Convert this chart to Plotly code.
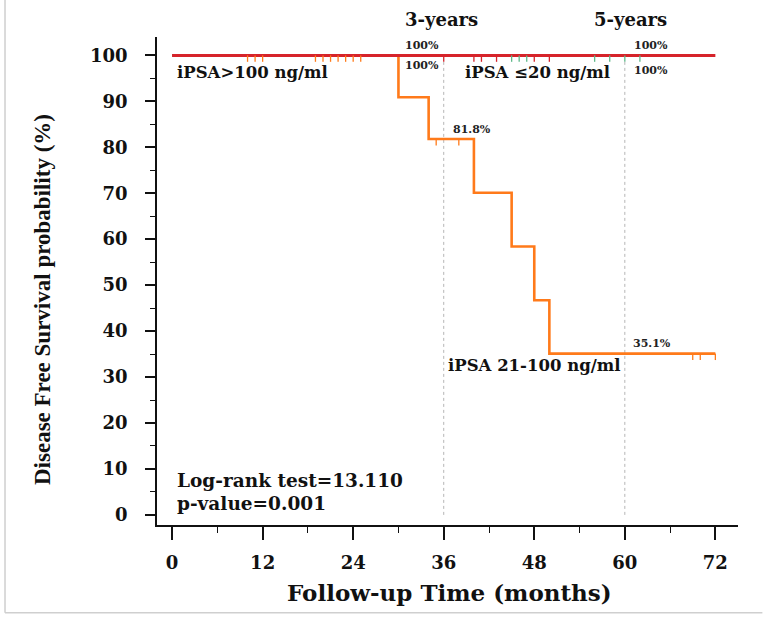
import plotly.graph_objects as go

# ---------------- data ----------------
# iPSA 21-100 ng/ml (orange) Kaplan-Meier steps
mid_times = [0, 30, 34, 40, 45, 48, 50, 72]
mid_surv = [100, 90.9, 81.8, 70.1, 58.4, 46.7, 35.1, 35.1]
mid_censor = [10, 11, 12, 19, 20, 21, 22, 23, 24, 25, 35, 38, 69, 70, 72]

# iPSA > 100 ng/ml (red)
high_times = [0, 72]
high_surv = [100, 100]
high_censor = [36, 40, 41, 43, 48, 50]

# iPSA <= 20 ng/ml (green)
low_times = [0, 62]
low_surv = [100, 100]
low_censor = [45, 46, 47, 56, 58, 60, 62]

x_ticks = [0, 12, 24, 36, 48, 60, 72]
y_ticks = [0, 10, 20, 30, 40, 50, 60, 70, 80, 90, 100]
milestones = [36, 60]

ORANGE = "#ff7a1a"
RED = "#d6232a"
GREEN = "#5fb98a"
SERIF = "DejaVu Serif"


def surv_at(t, times, surv):
    val = surv[0]
    for ti, si in zip(times, surv):
        if t >= ti:
            val = si
    return val


def censor_trace(ts, times, surv, color):
    xs, ys = [], []
    for t in ts:
        s = surv_at(t, times, surv)
        xs += [t, t, None]
        ys += [s, s - 1.4, None]
    return go.Scatter(x=xs, y=ys, mode="lines", line=dict(color=color, width=1.3),
                      hoverinfo="skip", showlegend=False, cliponaxis=False)


fig = go.Figure()

fig.add_trace(go.Scatter(x=mid_times, y=mid_surv, mode="lines", line_shape="hv",
                         line=dict(color=ORANGE, width=2.6), showlegend=False))
fig.add_trace(go.Scatter(x=low_times, y=low_surv, mode="lines", line_shape="hv",
                         line=dict(color=GREEN, width=3), showlegend=False))
fig.add_trace(go.Scatter(x=high_times, y=high_surv, mode="lines", line_shape="hv",
                         line=dict(color=RED, width=3), showlegend=False, cliponaxis=False))

fig.add_trace(censor_trace(mid_censor, mid_times, mid_surv, ORANGE))
fig.add_trace(censor_trace(high_censor, high_times, high_surv, RED))
fig.add_trace(censor_trace(low_censor, low_times, low_surv, GREEN))

shapes = []
for m in milestones:
    shapes.append(dict(type="line", xref="x", yref="y", x0=m, x1=m, y0=0, y1=99,
                       line=dict(color="#b5b5b5", width=1, dash="dot"), layer="below"))
# outer frame (left and bottom)
shapes.append(dict(type="line", xref="paper", yref="paper", x0=-0.2616, x1=-0.2616,
                   y0=-0.18, y1=1.08, line=dict(color="#cfcfcf", width=1.5)))
shapes.append(dict(type="line", xref="paper", yref="paper", x0=-0.2616, x1=1.042,
                   y0=-0.18, y1=-0.18, line=dict(color="#cfcfcf", width=1.5)))

small = dict(family=SERIF, size=11, color="#222", weight="bold")
mid = dict(family=SERIF, size=16.5, color="#111", weight="bold")
big = dict(family=SERIF, size=18, color="#111", weight="bold")
ann = [
    dict(x=35.6, y=102.2, text="100%", xanchor="right", font=small),
    dict(x=35.6, y=97.8, text="100%", xanchor="right", font=small),
    dict(x=61.0, y=102.2, text="100%", xanchor="left", font=small),
    dict(x=61.0, y=96.8, text="100%", xanchor="left", font=small),
    dict(x=36.9, y=83.9, text="81.8%", xanchor="left", font=small),
    dict(x=60.8, y=37.2, text="35.1%", xanchor="left", font=small),
    dict(x=0.4, y=96.3, text="iPSA>100 ng/ml", xanchor="left", font=mid),
    dict(x=38.5, y=96.3, text="iPSA ≤20 ng/ml", xanchor="left", font=mid),
    dict(x=36.3, y=32.6, text="iPSA 21-100 ng/ml", xanchor="left", font=mid),
    dict(x=0.4, y=7.4, text="Log-rank test=13.110", xanchor="left",
         font=dict(family=SERIF, size=18.5, color="#111", weight="bold")),
    dict(x=0.4, y=2.4, text="p-value=0.001", xanchor="left",
         font=dict(family=SERIF, size=18.5, color="#111", weight="bold")),
    dict(x=35.7, yref="paper", y=1 + (37 - 20) / 488, text="3-years", xanchor="center",
         font=big),
    dict(x=60.8, yref="paper", y=1 + (37 - 20) / 488, text="5-years", xanchor="center",
         font=big),
    dict(xref="paper", yref="paper", x=(42 - 157) / 581, y=(525 - 300) / 488,
         text="Disease Free Survival probability (%)", textangle=-90,
         xanchor="center", yanchor="middle",
         font=dict(family="Liberation Serif", size=23, color="#111", weight="bold")),
    dict(xref="paper", yref="paper", x=(449 - 157) / 581, y=(525 - 592) / 488,
         text="Follow-up Time (months)", xanchor="center", yanchor="middle",
         font=dict(family=SERIF, size=23, color="#111", weight="bold")),
]
for a in ann:
    a.setdefault("xref", "x")
    a.setdefault("yref", "y")
    a.setdefault("yanchor", "middle")
    a["showarrow"] = False

tickfont = dict(family=SERIF, size=18, color="#111", weight="bold")

fig.update_layout(
    width=772, height=618,
    margin=dict(l=157, r=34, t=37, b=93, autoexpand=False),
    plot_bgcolor="white", paper_bgcolor="white",
    shapes=shapes, annotations=ann, showlegend=False,
    xaxis=dict(range=[-2, 75], tickvals=x_ticks, showline=True, linecolor="#111",
               linewidth=1.5, ticks="outside", ticklen=13, tickwidth=1.5, tickcolor="#111",
               showgrid=False, zeroline=False, ticklabelstandoff=8,
               minor=dict(dtick=6, tick0=0, ticks="outside", ticklen=6, tickwidth=1.2,
                          tickcolor="#111", showgrid=False),
               tickfont=tickfont),
    yaxis=dict(range=[-2.2, 104], tickvals=y_ticks, showline=True, linecolor="#111",
               linewidth=1.5, ticks="outside", ticklen=10, tickwidth=1.5, tickcolor="#111",
               showgrid=False, zeroline=False, ticklabelstandoff=14,
               minor=dict(dtick=5, tick0=0, ticks="outside", ticklen=5, tickwidth=1.2,
                          tickcolor="#111", showgrid=False),
               tickfont=tickfont),
)

fig.write_html("out.html")
